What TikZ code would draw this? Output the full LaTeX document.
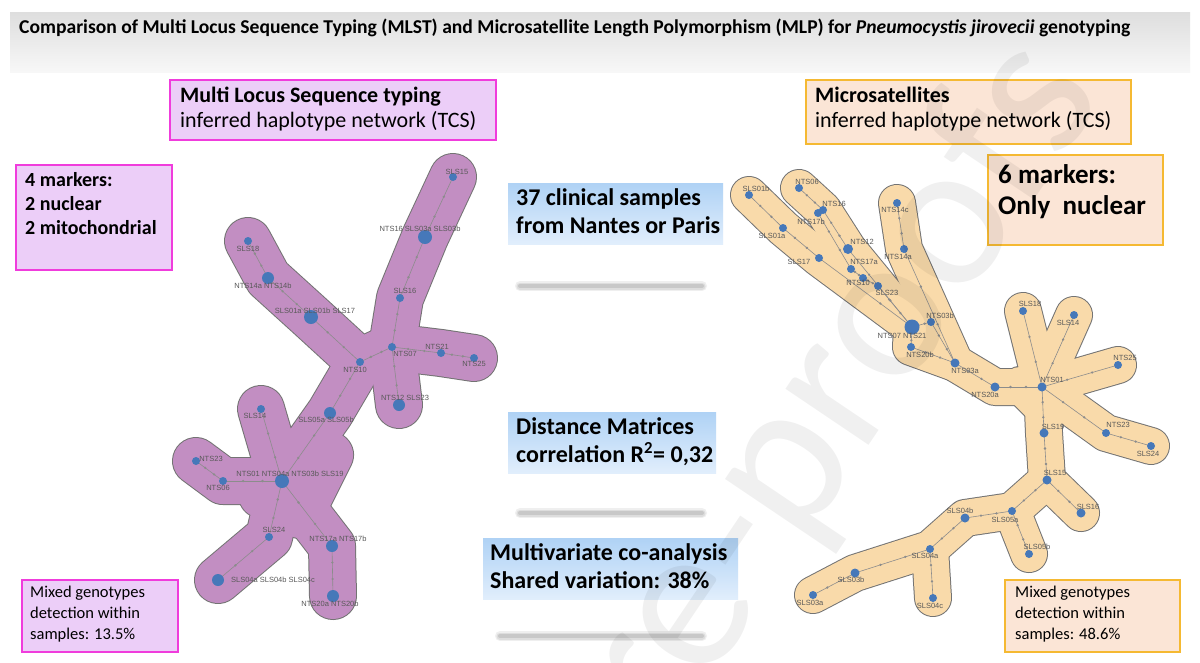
\documentclass[tikz,border=0pt]{standalone}
\usepackage{fontspec}
\setmainfont{Carlito}
\newfontfamily\lab{Liberation Sans}
\definecolor{pk}{RGB}{194,142,194}
\definecolor{orr}{RGB}{249,218,170}
\definecolor{pkline}{RGB}{240,60,220}
\definecolor{pkfill}{RGB}{236,206,248}
\definecolor{orline}{RGB}{245,185,50}
\definecolor{orfill}{RGB}{251,229,214}
\definecolor{bltop}{RGB}{175,210,245}
\definecolor{blbot}{RGB}{225,238,252}
\definecolor{dotc}{RGB}{70,120,185}
\newcommand\myLblob[1]{%
  \draw[#1] (a1)--(a2)--(a3)--(a4)--(a5)--(a6);
  \draw[#1] (a4)--(a7); \draw[#1] (a4)--(a8)--(a9)--(a10)--(a11);
  \draw[#1] (a8)--(a12)--(a13)--(a14); \draw[#1] (a13)--(a15)--(a16);
  \draw[#1] (a13)--(a17)--(a18); \draw[#1] (a13)--(a19)--(a20);
  \draw[#1] (330,455)--(262,495)--(300,515)--cycle;}
\newcommand\myRblob[1]{%
  \draw[#1] (b1)--(b2)--(b3)--(b13);
  \draw[#1] (b4)--(b5)--(b7)--(b13);
  \draw[#1] (b11)--(b12)--(b16);
  \draw[#1] (b13)--(b15)--(b16)--(b17)--(b18);
  \draw[#1] (b18)--(b19); \draw[#1] (b18)--(b20);
  \draw[#1] (b18)--(b21); \draw[#1] (b18)--(b22)--(b23);
  \draw[#1] (b18)--(b24)--(b25)--(b26);
  \draw[#1] (b25)--(b27)--(b29)--(b30)--(b32)--(b33);
  \draw[#1] (b27)--(b28); \draw[#1] (b30)--(b31);
  \draw[#1] (1020,385)--(1065,385)--(1045,410)--cycle;}
\begin{document}
\begin{tikzpicture}[x=1pt,y=-1pt,
  pinkbox/.style={draw=pkline,fill=pkfill,line width=2.5pt},
  orbox/.style={draw=orline,fill=orfill,line width=2.5pt},
  txt/.style={anchor=north west,align=left,inner sep=0pt},
  bluebox/.style={top color=bltop,bottom color=blbot,draw=none},
  dot/.style={circle,fill=dotc,inner sep=0pt,minimum size=#1},
  dot/.default=9pt,
  mut/.style={circle,fill=black!45,inner sep=0pt,minimum size=2.6pt},
  lbl/.style={font=\lab\fontsize{7.5}{8}\selectfont,text=black!65,inner sep=1pt},
  edge/.style={draw=black!45,line width=0.6pt},
  blobout/.style={draw=black!55,line width=#1,line cap=round,line join=round},
  blobin/.style={line width=#1,line cap=round,line join=round},
]
\useasboundingbox (0,0) rectangle (1200,662);
\fill[white] (0,0) rectangle (1200,662);
% title
\shade[top color=black!13,bottom color=black!3] (10,12) rectangle (1190,72);
\node[anchor=west,inner sep=0pt,font=\bfseries\fontsize{19.6}{21}\selectfont] (title) at (19,28) {Comparison of Multi Locus Sequence Typing (MLST) and Microsatellite Length Polymorphism (MLP) for \textit{Pneumocystis jirovecii} genotyping};

% ---------- left network ----------
\foreach \n/\x/\y in {a1/453/177,a2/425/237,a3/400/298,a4/392/347,a5/441/353,a6/474/358,a7/399/405,a8/360/362,a9/311/317,a10/268/278,a11/248/241,a12/330/413,a13/282/481,a14/261/409,a15/223/481,a16/196/461,a17/269/537,a18/218/580,a19/332/546,a20/333/596}
  \coordinate (\n) at (\x,\y);
\myLblob{blobout=48pt}
\myLblob{blobin=46pt,pk}
\foreach \p/\q in {a1/a2,a2/a3,a3/a4,a4/a5,a5/a6,a4/a7,a4/a8,a8/a9,a9/a10,a10/a11,a8/a12,a12/a13,a13/a14,a13/a15,a15/a16,a13/a17,a17/a18,a13/a19,a19/a20}
  \draw[edge] (\p) -- node[mut,pos=0.33]{} node[mut,pos=0.66]{} (\q);
\foreach \n/\s in {a1/8pt,a2/14pt,a3/8pt,a4/8pt,a5/8pt,a6/8pt,a7/12pt,a8/8pt,a9/14pt,a10/12pt,a11/8pt,a12/12pt,a13/14pt,a14/8pt,a15/8pt,a16/8pt,a17/8pt,a18/12pt,a19/12pt,a20/12pt}
  \node[dot=\s] (d\n) at (\n) {};
\node[lbl] (la1) at (457,172) {SLS15};
\node[lbl] (la2) at (420,229) {NTS16 SLS03a SLS03b};
\node[lbl] (la3) at (405,291) {SLS16};
\node[lbl] (la4) at (405,354) {NTS07};
\node[lbl] (la5) at (437,347) {NTS21};
\node[lbl] (la6) at (474,364) {NTS25};
\node[lbl] (la7) at (405,398) {NTS12 SLS23};
\node[lbl] (la8) at (355,370) {NTS10};
\node[lbl] (la9) at (315,311) {SLS01a SLS01b SLS17};
\node[lbl] (la10) at (263,286) {NTS14a NTS14b};
\node[lbl] (la11) at (248,249) {SLS18};
\node[lbl] (la12) at (326,420) {SLS05a SLS05b};
\node[lbl] (la13) at (290,474) {NTS01 NTS04a NTS03b SLS19};
\node[lbl] (la14) at (255,416) {SLS14};
\node[lbl] (la15) at (218,488) {NTS06};
\node[lbl] (la16) at (211,459) {NTS23};
\node[lbl] (la17) at (274,530) {SLS24};
\node[lbl] (la18) at (273,580) {SLS04a SLS04b SLS04c};
\node[lbl] (la19) at (338,539) {NTS17a NTS17b};
\node[lbl] (la20) at (330,604) {NTS20a NTS20b};

% ---------- right network ----------
\foreach \n/\x/\y in {b1/749/195,b2/783/228,b3/819/258,b4/799/188,b5/823/210,b6/818/213,b7/848/249,b8/851/269,b9/863/278,b10/878/286,b11/897/203,b12/904/249,b13/912/327,b14/931/322,b15/911/347,b16/955/363,b17/995/387,b18/1042/387,b19/1023/311,b20/1074/315,b21/1118/365,b22/1106/433,b23/1151/446,b24/1044/433,b25/1047/480,b26/1081/513,b27/1012/511,b28/1029/554,b29/965/518,b30/930/549,b31/933/598,b32/855/573,b33/813/595}
  \coordinate (\n) at (\x,\y);
\myRblob{blobout=38pt}
\myRblob{blobin=36pt,orr}
\foreach \p/\q in {b1/b2,b2/b3,b3/b13,b4/b5,b5/b7,b7/b13,b6/b8,b8/b9,b9/b10,b10/b13,b11/b12,b12/b16,b13/b15,b15/b16,b13/b14,b14/b16,b16/b17,b17/b18,b18/b19,b18/b20,b18/b21,b18/b22,b22/b23,b18/b24,b24/b25,b25/b26,b25/b27,b27/b29,b29/b30,b30/b32,b32/b33,b27/b28,b30/b31}
  \draw[edge] (\p) -- node[mut,pos=0.33]{} node[mut,pos=0.66]{} (\q);
\foreach \n/\s in {b1/8pt,b2/8pt,b3/8pt,b4/8pt,b5/8pt,b6/8pt,b7/10pt,b8/8pt,b9/8pt,b10/8pt,b11/8pt,b12/8pt,b13/15pt,b14/8pt,b15/8pt,b16/9pt,b17/9pt,b18/9pt,b19/8pt,b20/8pt,b21/8pt,b22/8pt,b23/8pt,b24/9pt,b25/9pt,b26/9pt,b27/8pt,b28/8pt,b29/9pt,b30/8pt,b31/8pt,b32/9pt,b33/8pt}
  \node[dot=\s] (e\n) at (\n) {};
\node[lbl] (lb1) at (756,189) {SLS01b};
\node[lbl] (lb2) at (772,236) {SLS01a};
\node[lbl] (lb3) at (799,262) {SLS17};
\node[lbl] (lb4) at (807,182) {NTS06};
\node[lbl] (lb5) at (834,204) {NTS16};
\node[lbl] (lb6) at (811,222) {NTS17b};
\node[lbl] (lb7) at (862,242) {NTS12};
\node[lbl] (lb8) at (864,262) {NTS17a};
\node[lbl] (lb9) at (858,283) {NTS10};
\node[lbl] (lb10) at (887,293) {SLS23};
\node[lbl] (lb11) at (895,210) {NTS14c};
\node[lbl] (lb12) at (898,257) {NTS14a};
\node[lbl] (lb13) at (902,336) {NTS07 NTS21};
\node[lbl] (lb14) at (940,316) {NTS03b};
\node[lbl] (lb15) at (920,355) {NTS20b};
\node[lbl] (lb16) at (965,371) {NTS03a};
\node[lbl] (lb17) at (985,395) {NTS20a};
\node[lbl] (lb18) at (1052,380) {NTS01};
\node[lbl] (lb19) at (1030,304) {SLS18};
\node[lbl] (lb20) at (1068,323) {SLS14};
\node[lbl] (lb21) at (1125,358) {NTS25};
\node[lbl] (lb22) at (1118,425) {NTS23};
\node[lbl] (lb23) at (1148,454) {SLS24};
\node[lbl] (lb24) at (1053,427) {SLS19};
\node[lbl] (lb25) at (1055,473) {SLS15};
\node[lbl] (lb26) at (1088,507) {SLS16};
\node[lbl] (lb27) at (1005,520) {SLS05a};
\node[lbl] (lb28) at (1037,547) {SLS05b};
\node[lbl] (lb29) at (960,511) {SLS04b};
\node[lbl] (lb30) at (925,556) {SLS04a};
\node[lbl] (lb31) at (930,606) {SLS04c};
\node[lbl] (lb32) at (851,580) {SLS03b};
\node[lbl] (lb33) at (810,603) {SLS03a};

% ---------- boxes ----------
\draw[pinkbox] (170,80) rectangle (496,140);
\node[txt,font=\fontsize{22}{25}\selectfont] (mlst) at (180,87) {\textbf{Multi Locus Sequence typing}\\inferred haplotype network (TCS)};
\draw[pinkbox] (16,165) rectangle (172,270);
\node[txt,font=\bfseries\fontsize{20}{24}\selectfont] (m4) at (25,172) {4 markers:\\2 nuclear\\2 mitochondrial};
\draw[pinkbox] (22,580) rectangle (178,652);
\node[txt,font=\fontsize{16.5}{21}\selectfont] (mix1) at (30,586) {Mixed genotypes\\detection within\\samples: 13.5\%};
\draw[orbox] (806,80) rectangle (1131,144);
\node[txt,font=\fontsize{22}{25}\selectfont] (ms) at (815,87) {\textbf{Microsatellites}\\inferred haplotype network (TCS)};
\draw[orbox] (988,155) rectangle (1163,245);
\node[txt,font=\bfseries\fontsize{27}{31}\selectfont] (m6) at (998,164) {6 markers:\\Only\ \ nuclear};
\draw[orbox] (1005,580) rectangle (1180,652);
\node[txt,font=\fontsize{16.5}{21}\selectfont] (mix2) at (1015,586) {Mixed genotypes\\detection within\\samples: 48.6\%};

\shade[bluebox] (508,183) rectangle (723,244);
\node[txt,font=\bfseries\fontsize{24}{28}\selectfont] (c1) at (516,188) {37 clinical samples\\from Nantes or Paris};
\shade[bluebox] (508,412) rectangle (716,473);
\node[txt,font=\bfseries\fontsize{24}{28}\selectfont] (c2) at (516,417) {Distance Matrices\\correlation R\textsuperscript{2}= 0,32};
\shade[bluebox] (483,538) rectangle (738,599);
\node[txt,font=\bfseries\fontsize{24}{28}\selectfont] (c3) at (490,543) {Multivariate co-analysis\\Shared variation: 38\%};
\foreach \xa/\xb/\yy in {520/702/286,520/702/513,500/702/636}{
  \foreach \w/\o in {10/0.15,7/0.2,4/0.3}
    \draw[line width=\w pt,line cap=round,black!40,opacity=\o] (\xa,\yy)--(\xb,\yy);
}
% watermark
\node[rotate=56,font=\fontsize{210}{210}\selectfont,text=black,opacity=0.06] (wm) at (840,390) {re-proofs};
\end{tikzpicture}
\end{document}
